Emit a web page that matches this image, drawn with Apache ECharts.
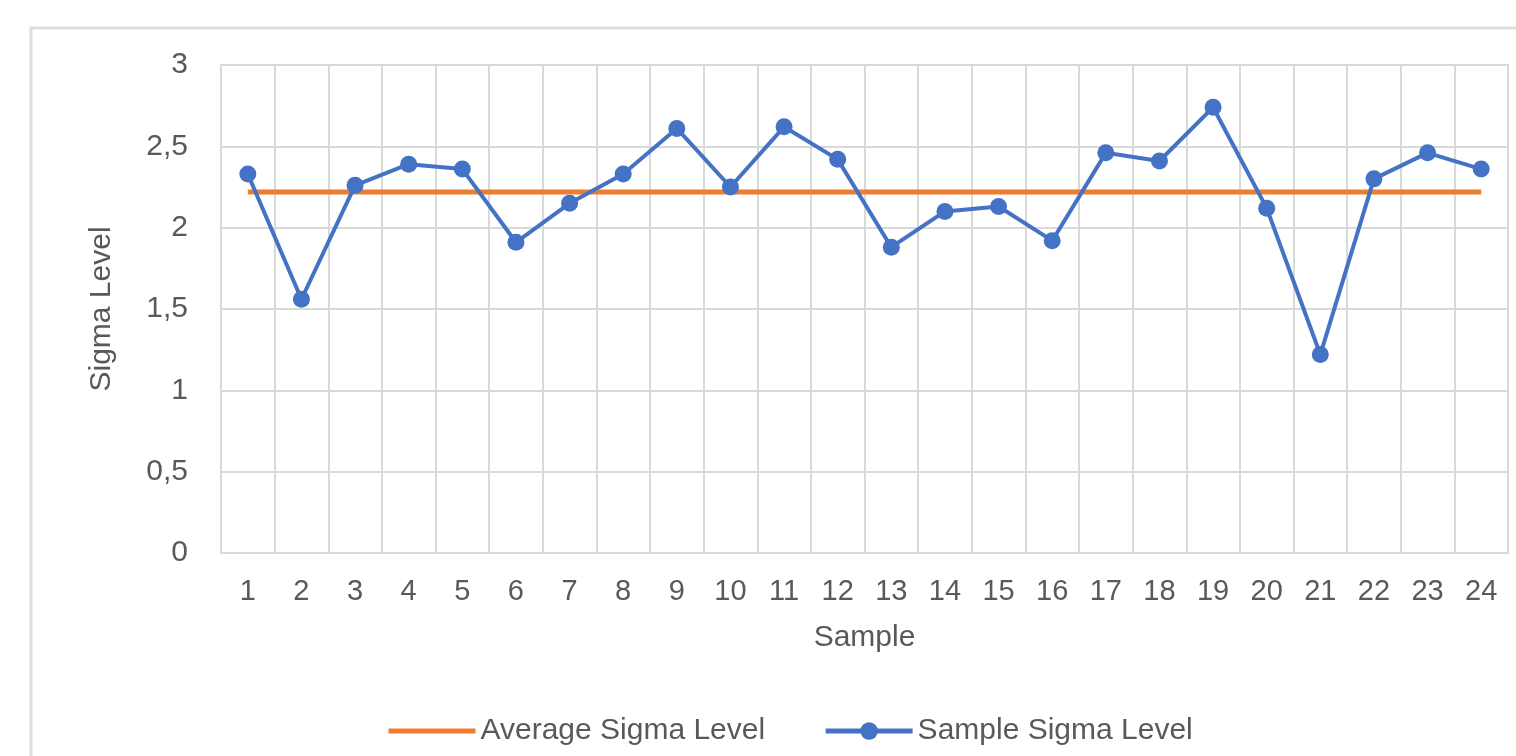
<!DOCTYPE html>
<html lang="en">
  <head>
    <meta charset="UTF-8" />
    <title>Sigma Level</title>
    <script src="https://cdn.jsdelivr.net/npm/echarts@6/dist/echarts.min.js"></script>
    <style>
      html, body { margin: 0; padding: 0; background: #fff; }
    </style>
  </head>
  <body>
    <div id="main" style="width: 1516px; height: 756px"></div>
    <script type="text/javascript">
      // chart data
      let samples = ["1","2","3","4","5","6","7","8","9","10","11","12","13","14","15","16","17","18","19","20","21","22","23","24"]
      let sampleSigma = [2.33, 1.56, 2.26, 2.39, 2.36, 1.91, 2.15, 2.33, 2.61, 2.25, 2.62, 2.42,
                         1.88, 2.10, 2.13, 1.92, 2.46, 2.41, 2.74, 2.12, 1.22, 2.30, 2.46, 2.36]
      let averageSigma = 2.22
      let averageLine = samples.map(() => averageSigma)

      let font = "'Liberation Sans', Arial, sans-serif"
      let textGray = "#595959"

      let myChart = echarts.init(document.getElementById("main"));

      let options = {
        animation: false,
        textStyle: { fontFamily: font },
        graphic: [
          {
            type: "rect",
            shape: { x: 31, y: 28, width: 1600, height: 800 },
            style: { fill: "none", stroke: "#dedede", lineWidth: 3 },
            silent: true,
          },
        ],
        grid: {
          left: 221, right: 8, top: 65, bottom: 203,
          show: true, borderColor: "#d9d9d9", borderWidth: 2,
        },
        legend: {
          left: 381, top: 711,
          itemWidth: 87, itemHeight: 22, itemGap: 58,
          textStyle: { fontFamily: font, fontSize: 30, color: textGray },
          data: [
            { name: "Average Sigma Level", itemStyle: { opacity: 0 }, lineStyle: { width: 5 } },
            { name: "Sample Sigma Level", lineStyle: { width: 5 } },
          ],
        },
        xAxis: {
          type: "category",
          data: samples,
          name: "Sample",
          nameLocation: "middle",
          nameGap: 70,
          nameTextStyle: { fontFamily: font, fontSize: 30, color: textGray },
          axisLine: { lineStyle: { color: "#d9d9d9", width: 2 } },
          axisTick: { show: false },
          axisLabel: { fontSize: 29, color: textGray, margin: 24, interval: 0 },
          splitLine: { show: true, lineStyle: { color: "#d9d9d9", width: 2 } },
        },
        yAxis: {
          type: "value",
          min: 0, max: 3, interval: 0.5,
          name: "Sigma Level",
          nameLocation: "middle",
          nameGap: 104,
          nameTextStyle: { fontFamily: font, fontSize: 30, color: textGray },
          axisLine: { show: true, lineStyle: { color: "#d9d9d9", width: 2 } },
          axisLabel: {
            fontSize: 30, color: textGray, margin: 33,
            formatter: (v) => String(v).replace(".", ","),
          },
          splitLine: { lineStyle: { color: "#d9d9d9", width: 2 } },
        },
        series: [
          {
            name: "Average Sigma Level",
            type: "line",
            data: averageLine,
            symbol: "none",
            lineStyle: { color: "#ED7D31", width: 5 },
            itemStyle: { color: "#ED7D31" },
          },
          {
            name: "Sample Sigma Level",
            type: "line",
            data: sampleSigma,
            symbol: "circle",
            symbolSize: 17,
            lineStyle: { color: "#4472C4", width: 4 },
            itemStyle: { color: "#4472C4" },
          },
        ],
      };

      myChart.setOption(options);
    </script>
  </body>
</html>
